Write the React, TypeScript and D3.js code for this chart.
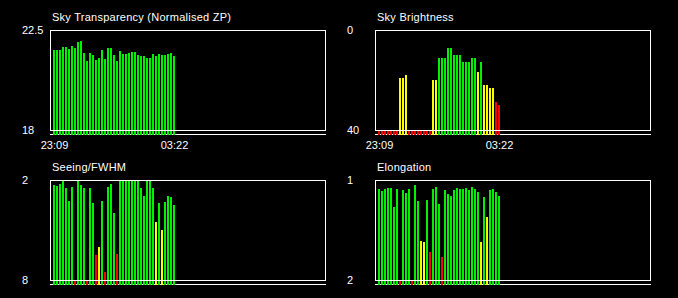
import React, { useEffect } from "react";
import * as d3 from "d3";

// ---- data ----
const timeLabels = ["23:09", "03:22"];

const transparency = [
  21.6, 21.6, 21.6, 21.74, 21.74, 21.65, 21.78, 21.69, 21.96, 22.0, 21.47,
  21.11, 21.47, 21.38, 21.15, 21.24, 21.6, 21.2, 21.69, 21.69, 21.38, 21.11,
  21.56, 21.42, 21.42, 21.47, 21.51, 21.51, 21.38, 21.33, 21.33, 21.24, 21.24,
  21.42, 21.33, 21.42, 21.38, 21.38, 21.42, 21.47, 21.33,
];

const brightness = [
  40, 40, 40, 40, 40, 40, 40, 19.2, 19.2, 18.0, 40, 40, 40, 40, 40, 40, 40, 40,
  20.0, 20.0, 11.2, 11.2, 11.2, 7.2, 7.2, 10.0, 10.0, 10.0, 12.8, 12.8, 12.8,
  11.2, 11.2, 16.8, 12.8, 22.0, 22.0, 23.2, 23.2, 28.8, 30.0,
];

const seeing = [
  2.3, 2.36, 2.24, 2.0, 2.48, 3.26, 2.42, 8.0, 2.0, 2.3, 2.48, 8.0, 2.48, 3.38,
  6.5, 6.02, 3.26, 7.52, 2.42, 2.24, 3.98, 6.44, 2.0, 2.0, 2.0, 2.0, 2.0, 2.0,
  2.0, 2.48, 2.96, 2.0, 2.0, 2.48, 4.52, 3.38, 5.0, 3.32, 2.96, 3.02, 3.5,
];

const elongation = [
  1.09, 1.11, 1.09, 1.08, 1.08, 1.27, 1.09, 2.0, 1.1, 1.13, 1.09, 2.0, 1.05,
  1.21, 1.61, 1.62, 1.2, 1.72, 1.09, 1.07, 1.24, 1.77, 1.1, 1.14, 1.16, 1.1,
  1.08, 1.09, 1.09, 1.08, 1.1, 1.07, 1.09, 1.12, 1.62, 1.17, 1.37, 1.1, 1.09,
  1.12, 1.16,
];

const GREEN = "#00f000";
const YELLOW = "#ffff00";
const RED = "#ff0000";

type Panel = {
  title: string;
  values: number[];
  bottom: number;
  top: number;
  bottomLabel: string;
  topLabel: string;
  color: (v: number) => string;
};

const panels: Panel[] = [
  {
    title: "Sky Transparency (Normalised ZP)",
    values: transparency,
    bottom: 18,
    top: 22.5,
    bottomLabel: "18",
    topLabel: "22.5",
    color: () => GREEN,
  },
  {
    title: "Sky Brightness",
    values: brightness,
    bottom: 40,
    top: 0,
    bottomLabel: "40",
    topLabel: "0",
    color: (v) => (v < 16 ? GREEN : v < 25 ? YELLOW : RED),
  },
  {
    title: "Seeing/FWHM",
    values: seeing,
    bottom: 8,
    top: 2,
    bottomLabel: "8",
    topLabel: "2",
    color: (v) => (v < 4.25 ? GREEN : v < 6.25 ? YELLOW : RED),
  },
  {
    title: "Elongation",
    values: elongation,
    bottom: 2,
    top: 1,
    bottomLabel: "2",
    topLabel: "1",
    color: (v) => (v < 1.3 ? GREEN : v < 1.7 ? YELLOW : RED),
  },
];

const W = 678;
const H = 298;
const PW = 275;
const PH = 100;
const FONT = "'Liberation Sans', Arial, sans-serif";

function PanelView({ p, left, top }: { p: Panel; left: number; top: number }) {
  const x = d3
    .scaleBand<number>()
    .domain(d3.range(p.values.length))
    .range([left + 2.5, left + 125.5])
    .paddingInner(1 / 3)
    .paddingOuter(1 / 6);
  const y = d3
    .scaleLinear()
    .domain([p.bottom, p.top])
    .range([top + PH, top])
    .clamp(true);
  const base = top + PH + 5;
  const last = p.values.length - 1;
  return (
    <g>
      <text
        x={left + 2}
        y={top - 9}
        fill="#fff"
        fontSize={11}
        fontFamily={FONT}
        letterSpacing={0.25}
      >
        {p.title}
      </text>
      <text x={left - 28} y={top + 4} fill="#fff" fontSize={11} fontFamily={FONT}>
        {p.topLabel}
      </text>
      <text x={left - 28} y={top + PH + 4} fill="#fff" fontSize={11} fontFamily={FONT}>
        {p.bottomLabel}
      </text>
      <line
        x1={left}
        x2={left + PW + 1}
        y1={top + PH + 4.5}
        y2={top + PH + 4.5}
        stroke="#fff"
        strokeWidth={1}
      />
      {p.values.map((v, i) => (
        <rect
          key={i}
          x={x(i)}
          y={y(v)}
          width={x.bandwidth()}
          height={base - y(v)}
          fill={p.color(v)}
          shapeRendering="crispEdges"
        />
      ))}
      <rect
        x={left + 0.5}
        y={top + 0.5}
        width={PW}
        height={PH}
        fill="none"
        stroke="#fff"
        strokeWidth={1}
      />
      {top > 100 ? null : (
        <g>
          <text
            x={(x(0) as number) + 1.5}
            y={top + PH + 18.5}
            fill="#fff"
            fontSize={11}
            fontFamily={FONT}
            textAnchor="middle"
          >
            {timeLabels[0]}
          </text>
          <text
            x={(x(last) as number) + 1.5}
            y={top + PH + 18.5}
            fill="#fff"
            fontSize={11}
            fontFamily={FONT}
            textAnchor="middle"
          >
            {timeLabels[1]}
          </text>
        </g>
      )}
    </g>
  );
}

export default function App() {
  useEffect(() => {
    document.body.style.margin = "0";
    document.body.style.background = "#000";
  }, []);
  const lefts = [50, 375];
  const tops = [30, 180];
  return (
    <div style={{ position: "fixed", left: 0, top: 0, width: W, height: H, background: "#000" }}>
      <svg width={W} height={H} style={{ display: "block", background: "#000" }}>
        <rect x={0} y={0} width={W} height={H} fill="#000" />
        {panels.map((p, k) => (
          <PanelView key={k} p={p} left={lefts[k % 2]} top={tops[Math.floor(k / 2)]} />
        ))}
      </svg>
    </div>
  );
}
